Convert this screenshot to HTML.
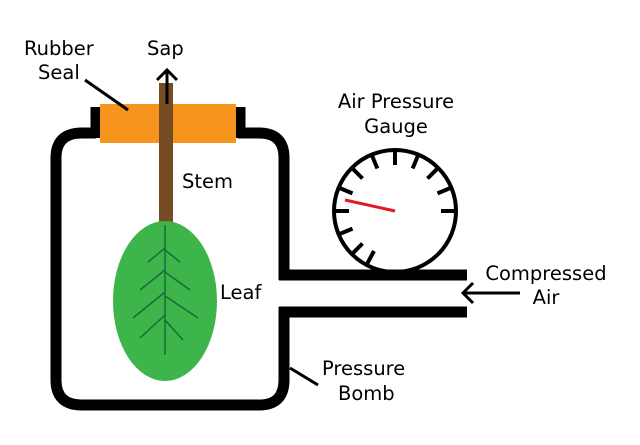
<!DOCTYPE html>
<html><head><style>body{margin:0;background:#fff}svg{display:block}text{font-family:"DejaVu Sans","Liberation Sans",sans-serif;font-size:19.5px;fill:#000}</style></head><body>
<svg width="640" height="445" viewBox="0 0 640 445">
<g fill="none" stroke="#000" stroke-width="11">
<path d="M96 133 H82 Q56 133 56 158 V380 Q56 405 82 405 H259 Q284 405 284 380 V307"/>
<path d="M238 133 H259 Q284 133 284 158 V280"/>
<line x1="96" y1="107" x2="96" y2="138"/>
<line x1="240" y1="107" x2="240" y2="138"/>
<line x1="279" y1="275" x2="467" y2="275"/>
<line x1="279" y1="312" x2="467" y2="312"/>
</g>
<rect x="100" y="104" width="136" height="39" fill="#F7941E"/>
<rect x="159" y="83" width="14" height="143" fill="#754C24"/>
<g stroke="#000" stroke-width="3" fill="none">
<line x1="167" y1="104" x2="167" y2="70"/><polyline points="157,80 167,70 177,80"/>
<line x1="85" y1="80" x2="128" y2="110"/>
<line x1="520" y1="293" x2="463" y2="293"/><polyline points="473,283 463,293 473,303"/>
<line x1="290" y1="368" x2="318" y2="385"/>
</g>
<ellipse cx="165" cy="301" rx="52" ry="80" fill="#3DB54A"/>
<g stroke="#1a6b3a" stroke-width="1.5" fill="none">
<line x1="165" y1="225" x2="165" y2="355"/>
<path d="M165 248 L148 262 M165 270 L140 290 M165 292 L133 318 M165 315 L140 338 M165 250 L180 262 M165 272 L190 290 M165 296 L198 318 M165 320 L183 340"/>
</g>
<circle cx="395" cy="211" r="61" fill="none" stroke="#000" stroke-width="4"/>
<line x1="395" y1="211" x2="345" y2="200" stroke="#e01b24" stroke-width="3"/>
<text x="24" y="55">Rubber</text><text x="38" y="79">Seal</text>
<text x="147" y="55">Sap</text>
<text x="182" y="188">Stem</text>
<text x="396" y="108" text-anchor="middle">Air Pressure</text><text x="396" y="133" text-anchor="middle">Gauge</text>
<text x="220" y="299">Leaf</text>
<text x="546" y="280" text-anchor="middle">Compressed</text><text x="546" y="304" text-anchor="middle">Air</text>
<text x="322" y="375">Pressure</text><text x="338" y="400">Bomb</text>
<g stroke="#000" stroke-width="4">
<line x1="455" y1="211" x2="441" y2="211"/>
<line x1="450.4" y1="188" x2="437.5" y2="193.4"/>
<line x1="437.4" y1="168.6" x2="427.5" y2="178.5"/>
<line x1="418" y1="155.6" x2="412.6" y2="168.5"/>
<line x1="395" y1="151" x2="395" y2="165"/>
<line x1="372" y1="155.6" x2="377.4" y2="168.5"/>
<line x1="352.6" y1="168.6" x2="362.5" y2="178.5"/>
<line x1="339.6" y1="188" x2="352.5" y2="193.4"/>
<line x1="335" y1="211" x2="349" y2="211"/>
<line x1="339.6" y1="234" x2="352.5" y2="228.6"/>
<line x1="352.6" y1="253.4" x2="362.5" y2="243.5"/>
<line x1="367" y1="264" x2="374" y2="251"/>
</g>
</svg>
</body></html>
